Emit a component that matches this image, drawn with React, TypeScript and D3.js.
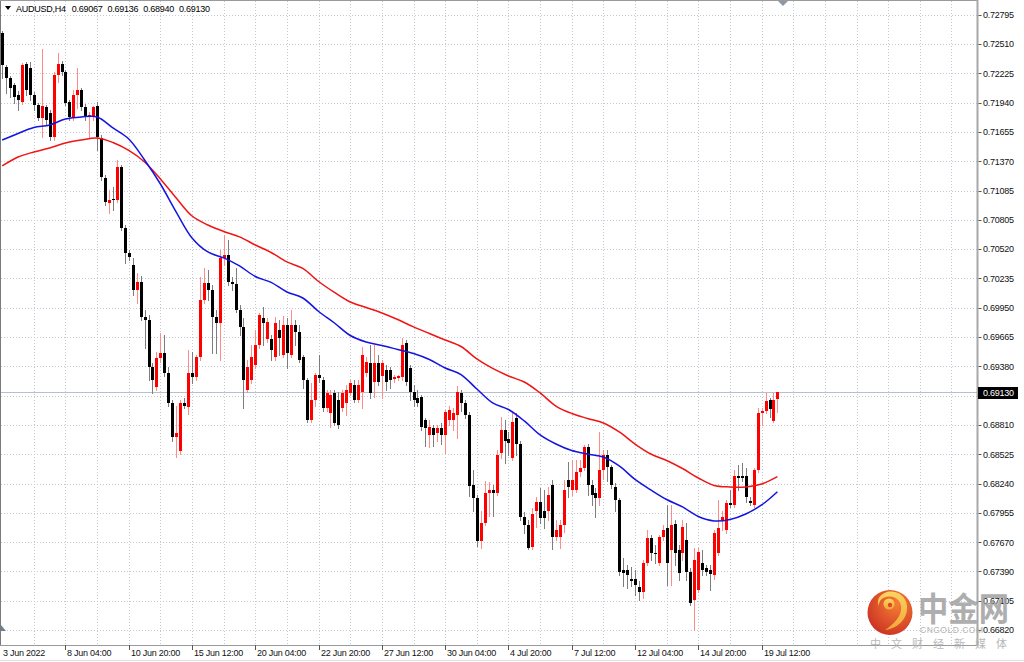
import * as d3 from "d3";
import React from "react";

// AUDUSD H4 candles (bar 0 = 3 Jun 12:00)
const opens = [
  0.7262, 0.7229, 0.7218, 0.7211, 0.7202, 0.7195, 0.7232, 0.7228, 0.7202, 0.7192,
  0.7179, 0.719, 0.7184, 0.7161, 0.7221, 0.7232, 0.7224, 0.7195, 0.718, 0.7202,
  0.7206, 0.719, 0.718, 0.718, 0.7191, 0.716, 0.7121, 0.7097, 0.7101, 0.71,
  0.7132, 0.7072, 0.7048, 0.7036, 0.7012, 0.702, 0.6986, 0.6983, 0.6937, 0.6918,
  0.6946, 0.6951, 0.6932, 0.6902, 0.6869, 0.6856, 0.6902, 0.6899, 0.6932, 0.6928,
  0.6947, 0.7002, 0.7019, 0.7012, 0.6986, 0.698, 0.7043, 0.7046, 0.702, 0.7018,
  0.6993, 0.6976, 0.6915, 0.6925, 0.6939, 0.6959, 0.6985, 0.6965, 0.6965, 0.6947,
  0.6973, 0.6949, 0.6978, 0.6949, 0.6978, 0.6971, 0.6947, 0.6925, 0.6886, 0.6905,
  0.693, 0.6925, 0.6898, 0.6893, 0.6912, 0.6905, 0.6898, 0.6902, 0.6912, 0.692,
  0.6905, 0.6913, 0.6932, 0.6941, 0.6923, 0.6941, 0.6929, 0.6934, 0.6934, 0.6926,
  0.6927, 0.6928, 0.6961, 0.6936, 0.6913, 0.6907, 0.6908, 0.6886, 0.6871, 0.6878,
  0.6873, 0.6878, 0.6871, 0.6886, 0.6886, 0.6891, 0.6912, 0.6902, 0.6891, 0.6823,
  0.681, 0.6768, 0.6786, 0.6815, 0.6818, 0.6815, 0.6854, 0.6876, 0.6867, 0.6849,
  0.6888, 0.6863, 0.6792, 0.6784, 0.6763, 0.6798, 0.6806, 0.6798, 0.6798, 0.6823,
  0.6772, 0.6772, 0.6784, 0.6828, 0.6818, 0.6818, 0.6835, 0.6839, 0.686, 0.6823,
  0.6815, 0.681, 0.6837, 0.6852, 0.684, 0.6821, 0.6808, 0.674, 0.674, 0.6732,
  0.6732, 0.6724, 0.6719, 0.6747, 0.6771, 0.6757, 0.6747, 0.6772, 0.6781, 0.676,
  0.6785, 0.676, 0.6757, 0.6769, 0.6738, 0.6711, 0.6721, 0.6747, 0.6742, 0.674,
  0.6735, 0.6757, 0.6789, 0.6779, 0.6805, 0.6803, 0.6832, 0.6832, 0.6832, 0.6807,
  0.6803, 0.6837, 0.6893, 0.6895, 0.6905, 0.6885, 0.69067,
];
const highs = [
  0.7264, 0.7231, 0.722, 0.7213, 0.7205, 0.7233, 0.7234, 0.7234, 0.7204, 0.7194,
  0.7246, 0.7192, 0.7187, 0.7224, 0.7242, 0.7235, 0.7226, 0.7197, 0.7206, 0.7228,
  0.7208, 0.7193, 0.7185, 0.7191, 0.7195, 0.7163, 0.7124, 0.7109, 0.7112, 0.7138,
  0.7134, 0.7075, 0.7051, 0.7043, 0.7029, 0.7026, 0.6993, 0.6988, 0.6941, 0.6952,
  0.697, 0.6968, 0.6937, 0.6905, 0.69, 0.6905, 0.6907, 0.6954, 0.6952, 0.6949,
  0.7025, 0.7034, 0.7032, 0.7017, 0.6993, 0.7051, 0.7066, 0.7061, 0.7025, 0.7034,
  0.6998, 0.6985, 0.6944, 0.6959, 0.6973, 0.699, 0.6996, 0.6985, 0.6968, 0.6986,
  0.6983, 0.6987, 0.6985, 0.6993, 0.6983, 0.6978, 0.6949, 0.6927, 0.6922, 0.6932,
  0.6949, 0.6928, 0.6915, 0.6915, 0.6915, 0.6913, 0.6915, 0.692, 0.6925, 0.6925,
  0.6925, 0.6957, 0.6947, 0.6959, 0.6959, 0.6949, 0.6944, 0.6939, 0.6937, 0.693,
  0.693, 0.6966, 0.6964, 0.6939, 0.692, 0.6915, 0.691, 0.6888, 0.6886, 0.6881,
  0.6881, 0.6883, 0.6896, 0.69, 0.6898, 0.6919, 0.6915, 0.6905, 0.6894, 0.6837,
  0.6813, 0.6798, 0.6827, 0.6826, 0.6823, 0.6857, 0.6889, 0.6886, 0.6874, 0.6893,
  0.6893, 0.6866, 0.6797, 0.6789, 0.68, 0.6811, 0.682, 0.6818, 0.6821, 0.6828,
  0.6789, 0.6789, 0.6828, 0.6845, 0.6847, 0.6847, 0.6847, 0.6862, 0.6863, 0.6828,
  0.682, 0.6874, 0.6857, 0.6857, 0.6842, 0.6825, 0.681, 0.6752, 0.6745, 0.6743,
  0.674, 0.673, 0.675, 0.6779, 0.6774, 0.6765, 0.6774, 0.6784, 0.6803, 0.6803,
  0.6789, 0.6765, 0.6789, 0.6786, 0.6742, 0.6762, 0.6762, 0.676, 0.6745, 0.6745,
  0.6779, 0.6808, 0.6798, 0.6808, 0.6818, 0.6837, 0.6842, 0.6844, 0.6839, 0.6811,
  0.6839, 0.6898, 0.6898, 0.6912, 0.6907, 0.6912, 0.69136,
];
const lows = [
  0.7218, 0.7203, 0.72, 0.7194, 0.7187, 0.7193, 0.7202, 0.7197, 0.7187, 0.7177,
  0.7161, 0.7172, 0.7158, 0.7158, 0.7214, 0.7221, 0.7192, 0.7177, 0.7177, 0.7189,
  0.7187, 0.7177, 0.7161, 0.7177, 0.7148, 0.7119, 0.7095, 0.7087, 0.709, 0.7098,
  0.707, 0.7038, 0.7041, 0.7007, 0.7, 0.6983, 0.6956, 0.6925, 0.6912, 0.6915,
  0.6942, 0.6929, 0.69, 0.6866, 0.685, 0.6853, 0.6898, 0.6892, 0.6922, 0.6925,
  0.6944, 0.7, 0.7002, 0.6951, 0.6951, 0.6944, 0.7036, 0.7017, 0.7012, 0.6991,
  0.6968, 0.6898, 0.6913, 0.6922, 0.6936, 0.6956, 0.6959, 0.6962, 0.6944, 0.6944,
  0.6949, 0.6947, 0.6936, 0.6947, 0.6959, 0.6942, 0.6917, 0.6884, 0.6884, 0.69,
  0.6923, 0.6895, 0.6895, 0.6879, 0.6881, 0.6878, 0.6895, 0.6891, 0.691, 0.6903,
  0.6903, 0.6898, 0.6929, 0.6907, 0.6908, 0.692, 0.6907, 0.6915, 0.6917, 0.6923,
  0.6925, 0.6925, 0.692, 0.6905, 0.69, 0.69, 0.6876, 0.6861, 0.686, 0.6861,
  0.6866, 0.6863, 0.6854, 0.6881, 0.6876, 0.6868, 0.6895, 0.6888, 0.6812, 0.6798,
  0.6764, 0.6762, 0.6784, 0.6793, 0.6793, 0.6813, 0.6849, 0.6844, 0.6852, 0.6847,
  0.6852, 0.6789, 0.6776, 0.6761, 0.6761, 0.6782, 0.6786, 0.6781, 0.6789, 0.6761,
  0.6769, 0.6762, 0.6777, 0.6811, 0.6813, 0.6816, 0.6832, 0.6837, 0.6813, 0.6803,
  0.6792, 0.6803, 0.6829, 0.6827, 0.682, 0.6798, 0.6735, 0.6725, 0.6723, 0.6725,
  0.6716, 0.6711, 0.6713, 0.6745, 0.675, 0.6747, 0.6745, 0.6769, 0.6726, 0.6726,
  0.6745, 0.6731, 0.675, 0.6731, 0.6706, 0.6682, 0.6719, 0.6735, 0.6735, 0.6721,
  0.6732, 0.6755, 0.6779, 0.6776, 0.6801, 0.6801, 0.6818, 0.6827, 0.6806, 0.6803,
  0.6801, 0.6835, 0.6881, 0.6893, 0.6889, 0.6884, 0.6894,
];
const closes = [
  0.7231, 0.7218, 0.7208, 0.72, 0.7197, 0.7231, 0.7206, 0.7202, 0.7192, 0.7179,
  0.7191, 0.7177, 0.7161, 0.7221, 0.7232, 0.7224, 0.7194, 0.718, 0.7202, 0.7206,
  0.719, 0.718, 0.7182, 0.719, 0.7161, 0.7122, 0.7098, 0.71, 0.71, 0.7132,
  0.7072, 0.7048, 0.7044, 0.7012, 0.702, 0.6986, 0.6983, 0.6937, 0.6925, 0.6946,
  0.6951, 0.6932, 0.6902, 0.6869, 0.6873, 0.6902, 0.69, 0.6932, 0.6928, 0.6947,
  0.7002, 0.7019, 0.7012, 0.6986, 0.698, 0.7043, 0.7046, 0.702, 0.7018, 0.6993,
  0.6976, 0.6925, 0.6937, 0.6947, 0.6959, 0.6988, 0.698, 0.6981, 0.6954, 0.698,
  0.6966, 0.6978, 0.6951, 0.6978, 0.6971, 0.6944, 0.6925, 0.6886, 0.6905, 0.693,
  0.6927, 0.6898, 0.6912, 0.691, 0.6883, 0.6881, 0.6912, 0.6915, 0.6922, 0.6905,
  0.692, 0.6949, 0.6942, 0.6912, 0.6941, 0.6923, 0.6941, 0.6923, 0.6925, 0.6928,
  0.6929, 0.6959, 0.6923, 0.6913, 0.6905, 0.6902, 0.6879, 0.6878, 0.6879, 0.6871,
  0.6878, 0.6871, 0.6894, 0.6896, 0.6893, 0.6913, 0.6902, 0.6891, 0.6822, 0.681,
  0.6768, 0.6786, 0.6815, 0.6818, 0.6815, 0.6852, 0.6876, 0.6866, 0.6864, 0.6884,
  0.6863, 0.6792, 0.6784, 0.6762, 0.6795, 0.6806, 0.6791, 0.6791, 0.6813, 0.6772,
  0.6779, 0.6784, 0.6818, 0.6821, 0.6828, 0.6835, 0.6839, 0.686, 0.6823, 0.6813,
  0.681, 0.6837, 0.6852, 0.684, 0.6823, 0.6808, 0.6738, 0.6737, 0.6735, 0.673,
  0.6726, 0.6719, 0.6747, 0.6771, 0.6757, 0.6756, 0.6772, 0.6779, 0.6747, 0.6784,
  0.6757, 0.6737, 0.6782, 0.6738, 0.6708, 0.675, 0.6758, 0.674, 0.6738, 0.6736,
  0.6776, 0.6781, 0.6792, 0.6805, 0.6803, 0.6832, 0.683, 0.683, 0.6811, 0.6805,
  0.6837, 0.6893, 0.6895, 0.6904, 0.6897, 0.6905, 0.6913,
];

// moving averages, sampled every 4 bars (last one at the final bar)
const maBars = [
  0, 4, 8, 12, 16, 20, 24, 28, 32, 36, 40, 44, 48, 52, 56, 60, 64, 68, 72, 76,
  80, 84, 88, 92, 96, 100, 104, 108, 112, 116, 120, 124, 128, 132, 136, 140, 144, 148, 152, 156,
  160, 164, 168, 172, 176, 180, 184, 188, 192, 196,
];
const maBlue = [
  0.71578, 0.71642, 0.717, 0.71724, 0.71782, 0.71802, 0.71802, 0.71695, 0.71588, 0.71384,
  0.71151, 0.70879, 0.70627, 0.70491, 0.70433, 0.70355, 0.70253, 0.70195, 0.70102, 0.70044,
  0.69913, 0.69801, 0.6968, 0.69617, 0.69583, 0.69544, 0.69505, 0.69447, 0.69364, 0.69301,
  0.6916, 0.69025, 0.68961, 0.6885, 0.68714, 0.68626, 0.68563, 0.68529, 0.685, 0.68413,
  0.68282, 0.6818, 0.68087, 0.68015, 0.67922, 0.67879, 0.67893, 0.67947, 0.68034, 0.68163,
];
const maRed = [
  0.71326, 0.71413, 0.71462, 0.71501, 0.71549, 0.71578, 0.71598, 0.71554, 0.71477, 0.71365,
  0.712, 0.71015, 0.7084, 0.70753, 0.7069, 0.70637, 0.70559, 0.70486, 0.70394, 0.70331,
  0.70204, 0.70098, 0.70005, 0.69952, 0.69899, 0.69835, 0.69763, 0.69699, 0.69636, 0.69573,
  0.69452, 0.6936, 0.69287, 0.69228, 0.69122, 0.68995, 0.68923, 0.68874, 0.6883, 0.68743,
  0.68626, 0.68529, 0.68466, 0.68388, 0.68296, 0.68223, 0.68209, 0.68209, 0.68238, 0.68309,
];

const priceTicks = [
  "0.72795", "0.72510", "0.72225", "0.71940", "0.71655", "0.71370", "0.71085", "0.70805",
  "0.70520", "0.70235", "0.69950", "0.69665", "0.69380", "0.69095", "0.68810", "0.68525",
  "0.68240", "0.67955", "0.67670", "0.67390", "0.67105", "0.66820",
];
const timeLabels = [
  "3 Jun 2022", "8 Jun 04:00", "10 Jun 20:00", "15 Jun 12:00", "20 Jun 04:00", "22 Jun 20:00",
  "27 Jun 12:00", "30 Jun 04:00", "4 Jul 20:00", "7 Jul 12:00", "12 Jul 04:00", "14 Jul 20:00",
  "19 Jul 12:00",
];
const title = ["AUDUSD,H4", "0.69067", "0.69136", "0.68940", "0.69130"];
const lastPrice = 0.6913;

const plotRight = 977.5;
const plotBottom = 645;
const font = "'Liberation Sans', Arial, sans-serif";

const App = () => {
  const x = d3.scaleLinear([0, 192], [2.2, 761.6]);
  const y = d3.scaleLinear([0.6682, 0.72795], [630, 14.7]);
  const px = (i: number) => Math.round(x(i));
  const py = (v: number) => Math.round(y(v));

  const line = d3
    .line<number>()
    .x((d, k) => x(maBars[k]))
    .y((d) => y(d))
    .curve(d3.curveCatmullRom);

  const gridX = d3.range(8, 248, 8).filter((i) => x(i) < plotRight - 2);
  const grid = { stroke: "#c3cad4", strokeWidth: 1, strokeDasharray: "1,2" };
  // the current-price box covers the tick label that sits under it
  const hidden = (t: string) => Math.abs(y(+t) - y(lastPrice)) < 9;

  return (
    <svg
      width={1024}
      height={662}
      style={{ position: "absolute", left: 0, top: 0, display: "block", background: "#fff" }}
      fontFamily={font}
    >
      <rect width={1024} height={662} fill="#fff" />

      {/* grid */}
      {priceTicks.map((t) => (
        <line key={t} x1={1} x2={plotRight} y1={py(+t) + 0.5} y2={py(+t) + 0.5} {...grid} />
      ))}
      {gridX.map((i) => (
        <line key={i} x1={px(i) + 0.5} x2={px(i) + 0.5} y1={1} y2={plotBottom} {...grid} />
      ))}

      {/* current price line */}
      <line x1={1} x2={plotRight} y1={py(lastPrice) + 0.5} y2={py(lastPrice) + 0.5} stroke="#b7bfcc" />

      {/* candles */}
      {opens.map((o, i) => {
        const c = closes[i];
        const up = c >= o;
        const cx = px(i);
        const top = py(Math.max(o, c));
        const bot = py(Math.min(o, c));
        return (
          <g key={i}>
            <line
              x1={cx + 0.5}
              x2={cx + 0.5}
              y1={py(highs[i])}
              y2={py(lows[i]) + 1}
              stroke={up ? "#ff8a8a" : "#7d7d7d"}
            />
            <rect x={cx - 1} y={top} width={3} height={Math.max(1, bot - top)} fill={up ? "#ff0000" : "#000"} />
          </g>
        );
      })}

      {/* moving averages */}
      <path d={line(maRed) ?? undefined} fill="none" stroke="#f01414" strokeWidth={1.5} />
      <path d={line(maBlue) ?? undefined} fill="none" stroke="#1414e0" strokeWidth={1.5} />

      {/* frame */}
      <line x1={0.5} x2={0.5} y1={0} y2={plotBottom} stroke="#7a7a7a" />
      <line x1={0} x2={plotRight} y1={0.5} y2={0.5} stroke="#9a9a9a" />
      <line x1={plotRight} x2={plotRight} y1={0} y2={plotBottom + 0.5} stroke="#a8a8a8" strokeWidth={2} />
      <line x1={0} x2={plotRight} y1={plotBottom + 0.5} y2={plotBottom + 0.5} stroke="#9a9a9a" />
      <line x1={0} x2={1024} y1={660.5} y2={660.5} stroke="#e2e2e2" />
      <polygon points="778,1 788,1 783,6" fill="#8d97a5" />
      <polygon points="1,631 1,625 6,631" fill="#6f7f95" />

      {/* price axis */}
      {priceTicks.map((t) => (
        <g key={t}>
          <line x1={978.5} x2={981.5} y1={py(+t) + 0.5} y2={py(+t) + 0.5} stroke="#555" />
          {!hidden(t) && (
            <text x={983} y={y(+t) + 3.2} fontSize={9} letterSpacing={-0.25} fill="#111">
              {t}
            </text>
          )}
        </g>
      ))}
      <rect x={978} y={py(lastPrice) - 5} width={40} height={12} fill="#000" />
      <text x={983} y={y(lastPrice) + 3.6} fontSize={9} letterSpacing={-0.25} fill="#fff">
        {lastPrice.toFixed(5)}
      </text>

      {/* time axis */}
      {timeLabels.map((t, j) => (
        <g key={t}>
          {j > 0 && <line x1={px(j * 16) + 0.5} x2={px(j * 16) + 0.5} y1={plotBottom} y2={650} stroke="#555" />}
          <text x={j === 0 ? 3 : px(j * 16) + 2} y={656} fontSize={9} letterSpacing={-0.25} fill="#111">
            {t}
          </text>
        </g>
      ))}

      {/* title */}
      <polygon points="5,6 11,6 8,10" fill="#000" />
      {title.map((t, k) => (
        <text key={k} x={k === 0 ? 16 : 71.7 + (k - 1) * 35.8} y={11.5} fontSize={9} letterSpacing={-0.25} fill="#000">
          {t}
        </text>
      ))}

      {/* watermark */}
      <defs>
        <radialGradient id="wmBall" cx="0.65" cy="0.3" r="0.8">
          <stop offset="0" stopColor="#f5782a" />
          <stop offset="1" stopColor="#c82418" />
        </radialGradient>
        <linearGradient id="wmSwirl" x1="0" y1="0" x2="0" y2="1">
          <stop offset="0" stopColor="#fbd25a" />
          <stop offset="1" stopColor="#f3a42a" />
        </linearGradient>
      </defs>
      <g opacity={0.95}>
        <circle cx={890} cy={612.5} r={22.5} fill="url(#wmBall)" />
        <path
          d="M879,606 C878,596 893,593 899,601 C905,610 898,622 885,630 C896,629 908,620 907,606 C906,595 896,590 887,592 C880,594 876,600 879,606 Z"
          fill="url(#wmSwirl)"
        />
        <circle cx={889} cy={604} r={5.5} fill="url(#wmSwirl)" />
        <circle cx={890} cy={605} r={2.2} fill="#d9401f" />
        <text x={918} y={621} fontSize={33} fontWeight={700} fontFamily="'Noto Sans CJK SC', sans-serif" fill="#9c9c9c" opacity={0.85} textLength={91} lengthAdjust="spacingAndGlyphs">
          中金网
        </text>
        <text x={920} y={633} fontSize={8.5} fill="#aaaaaa" textLength={63} opacity={0.9}>
          CNGOLD.COM
        </text>
        <text x={870} y={648} fontSize={11} fontFamily="'Noto Sans CJK SC', sans-serif" fill="#b5b5b5" textLength={137}>
          中文财经新媒体
        </text>
      </g>
    </svg>
  );
};

export default App;
